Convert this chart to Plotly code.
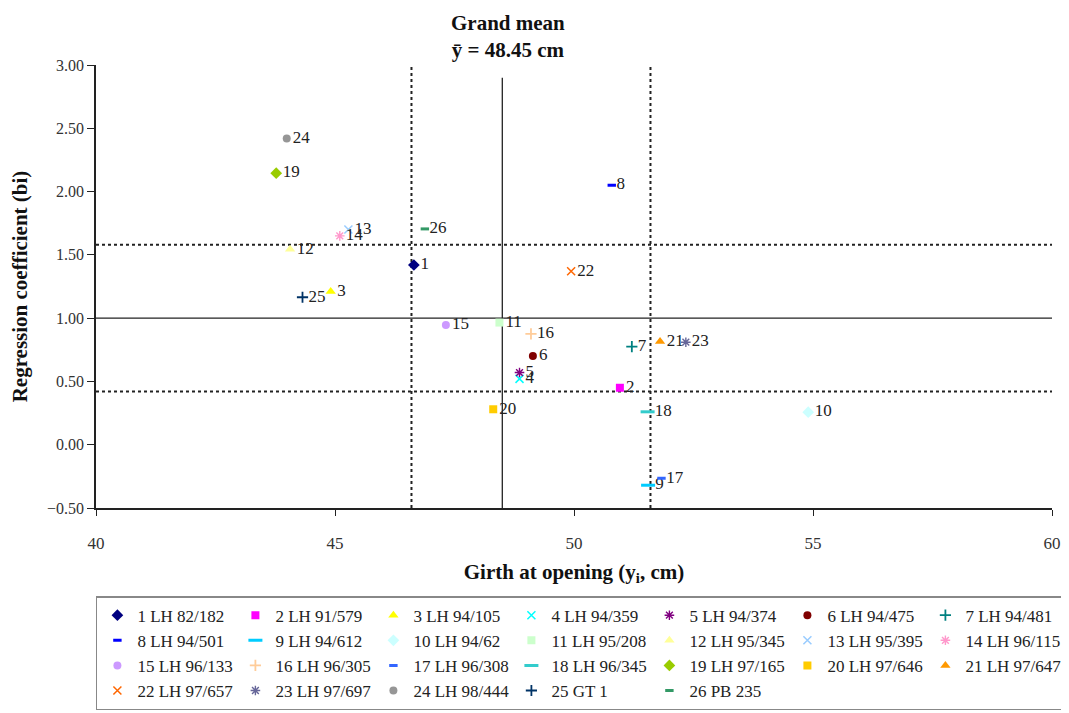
import plotly.graph_objects as go

# ---- data ----
ids = list(range(1, 27))
names = ["LH 82/182", "LH 91/579", "LH 94/105", "LH 94/359", "LH 94/374", "LH 94/475",
         "LH 94/481", "LH 94/501", "LH 94/612", "LH 94/62", "LH 95/208", "LH 95/345",
         "LH 95/395", "LH 96/115", "LH 96/133", "LH 96/305", "LH 96/308", "LH 96/345",
         "LH 97/165", "LH 97/646", "LH 97/647", "LH 97/657", "LH 97/697", "LH 98/444",
         "GT 1", "PB 235"]
girth = [46.65, 50.96, 44.91, 48.86, 48.86, 49.14, 51.21, 50.79, 51.55, 54.90,
         48.44, 44.06, 45.28, 45.10, 47.32, 49.10, 51.83, 51.54, 43.77, 48.31,
         51.80, 49.94, 52.34, 43.99, 44.32, 46.88]
bi = [1.42, 0.45, 1.21, 0.52, 0.57, 0.70, 0.775, 2.05, -0.32, 0.257,
      0.965, 1.544, 1.70, 1.65, 0.946, 0.875, -0.265, 0.26, 2.145, 0.28,
      0.815, 1.37, 0.81, 2.42, 1.165, 1.705]

grand_mean = 48.5          # vertical solid reference (grand mean)
bi_ref = 1.0               # horizontal solid reference
x_dotted = [46.6, 51.6]
y_dotted = [1.58, 0.42]

x_ticks = [40, 45, 50, 55, 60]
y_ticks = [-0.5, 0, 0.5, 1.0, 1.5, 2.0, 2.5, 3.0]

# ---- styles ----
colors = ["#000080", "#FF00FF", "#FFFF00", "#00FFFF", "#800080", "#800000", "#008080",
          "#0000FF", "#00CCFF", "#CCFFFF", "#CCFFCC", "#FFFF99", "#99CCFF", "#FF99CC",
          "#CC99FF", "#FFCC99", "#3366FF", "#33CCCC", "#99CC00", "#FFCC00", "#FF9900",
          "#FF6600", "#666699", "#969696", "#003366", "#339966"]
base_symbols = ["diamond", "square", "triangle-up", "x-thin-open", "asterisk-open",
                "circle", "cross-thin-open", "line-ew-open", "line-ew-open"]
base_sizes = [9, 8, 9, 8, 8, 8, 8, 6, 10]
base_lw = [0, 0, 0, 1.5, 1.4, 0, 1.8, 3, 3]

SERIF = "Liberation Serif"
W, H = 1061, 705   # page body adds an 8px offset; keep the figure inside the window
fig = go.Figure()

for i in range(len(ids)):
    k = i % len(base_symbols)
    fig.add_trace(go.Scatter(
        x=[girth[i]], y=[bi[i]], mode="markers+text",
        name=f"{ids[i]} {names[i]}",
        text=[f"{ids[i]}"], textposition="middle right",
        textfont=dict(family=SERIF, size=17, color="#222222"),
        marker=dict(symbol=base_symbols[k], size=base_sizes[k], color=colors[i],
                    line=dict(color=colors[i], width=base_lw[k])),
        cliponaxis=False,
    ))

# reference lines
fig.add_shape(type="line", xref="x", yref="y", x0=40, x1=60, y0=bi_ref, y1=bi_ref,
              line=dict(color="#222222", width=1.3), layer="below")
fig.add_shape(type="line", xref="x", yref="y", x0=grand_mean, x1=grand_mean, y0=-0.5, y1=2.9,
              line=dict(color="#222222", width=1.3), layer="below")
for xv in x_dotted:
    fig.add_shape(type="line", xref="x", yref="y", x0=xv, x1=xv, y0=-0.5, y1=3.0,
                  line=dict(color="#222222", width=2, dash="dot"), layer="below")
for yv in y_dotted:
    fig.add_shape(type="line", xref="x", yref="y", x0=40, x1=60, y0=yv, y1=yv,
                  line=dict(color="#222222", width=2, dash="dot"), layer="below")

fig.add_annotation(x=grand_mean, xref="x", xshift=6, y=1.0, yref="paper", yshift=1,
                   yanchor="bottom", showarrow=False,
                   text="<b>Grand mean</b><br><b>ȳ = 48.45 cm</b>",
                   font=dict(family=SERIF, size=21, color="#111111"))

fig.update_layout(
    width=W, height=H,
    margin=dict(l=88, r=17, t=57, b=205, autoexpand=False),
    paper_bgcolor="white", plot_bgcolor="white",
    font=dict(family=SERIF, color="#222222"),
    xaxis=dict(range=[40, 60], tickvals=x_ticks, ticktext=[str(v) for v in x_ticks],
               showgrid=False, zeroline=False, showline=True, linecolor="#222222", linewidth=1.5,
               ticks="outside", ticklen=6, tickcolor="#222222", ticklabelstandoff=13,
               tickfont=dict(family=SERIF, size=17, color="#333333"),
               title=dict(text="<b>Girth at opening (y<sub>i</sub>, cm)</b>",
                          font=dict(family=SERIF, size=21, color="#111111"), standoff=12)),
    yaxis=dict(range=[-0.5, 3.0], tickvals=y_ticks, tickformat=".2f",
               showgrid=False, zeroline=False, showline=True, linecolor="#222222", linewidth=1.5,
               ticks="outside", ticklen=7, tickcolor="#222222",
               tickfont=dict(family=SERIF, size=16, color="#333333"),
               title=dict(text="<b>Regression coefficient (bi)</b>",
                          font=dict(family=SERIF, size=21, color="#111111"), standoff=14)),
    legend=dict(orientation="h", xref="paper", yref="paper",
                x=-0.0001, xanchor="left", y=-0.199, yanchor="top",
                bordercolor="#888888", borderwidth=1.5, entrywidth=93,
                font=dict(family=SERIF, size=17, color="#222222"), traceorder="normal"),
    showlegend=True,
)

fig.write_html("out.html")
